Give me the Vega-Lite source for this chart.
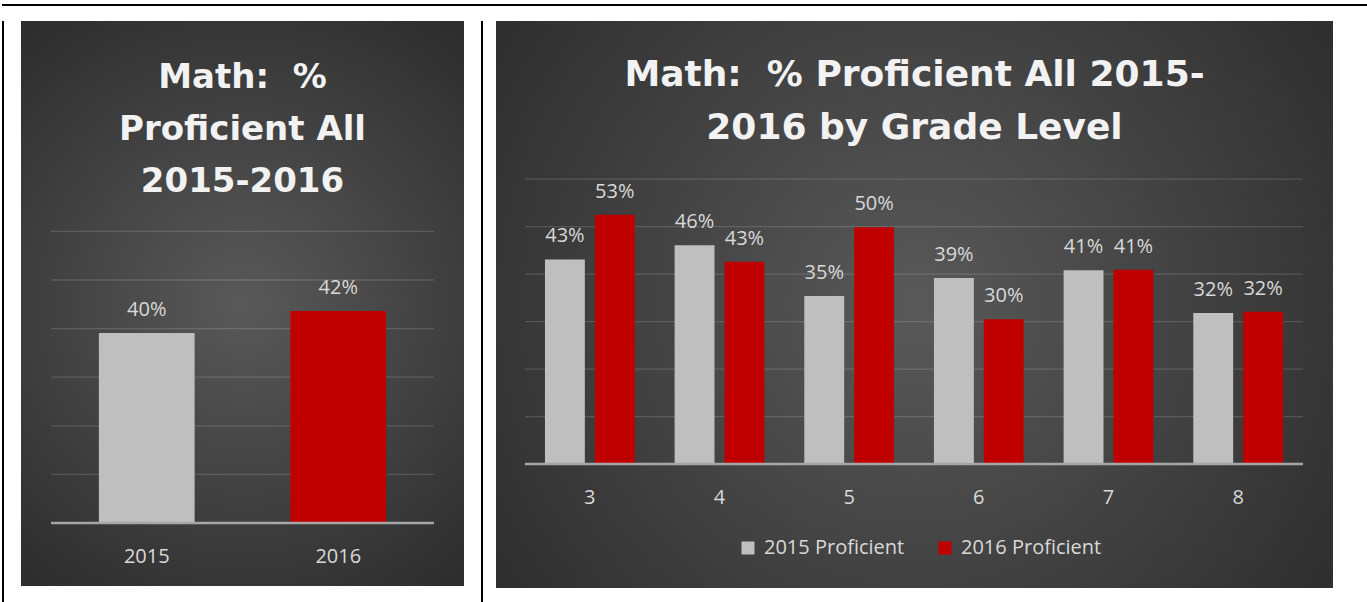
{
  "$schema": "https://vega.github.io/schema/vega-lite/v6.json",
  "background": "white",
  "padding": {"left": 2, "top": 4, "right": 0, "bottom": 0},
  "config": {
    "view": {"stroke": null},
    "axis": {"labelFont": "Open Sans", "labelFontSize": 20, "labelColor": "#d9d9d9", "zindex": 2},
    "text": {"font": "Open Sans"}
  },
  "spacing": 15,
  "resolve": {"scale": {"color": "independent"}, "legend": {"color": "independent"}},
  "vconcat": [
    {
      "width": 1365, "height": 2,
      "data": {"values": [{}]},
      "mark": {"type": "rect", "fill": "black"},
      "encoding": {}
    },
    {
      "spacing": 17,
      "resolve": {"scale": {"color": "independent"}, "legend": {"color": "independent"}},
      "hconcat": [
        {
          "spacing": 17,
          "resolve": {"scale": {"color": "independent"}, "legend": {"color": "independent"}},
          "hconcat": [
            {
              "width": 2, "height": 600,
              "data": {"values": [{}]},
              "mark": {"type": "rect", "fill": "black"},
              "encoding": {}
            },
            {
              "width": 443, "height": 565,
              "title": {
                "text": ["Math:\u00a0\u00a0%", "Proficient All", "2015-2016"],
                "anchor": "middle", "frame": "group", "offset": -212, "baseline": "bottom",
                "font": "DejaVu Sans", "fontSize": 34, "fontWeight": "bold", "color": "#f2f2f2", "lineHeight": 52
              },
              "resolve": {"scale": {"x": "independent"}},
              "layer": [
                {
                  "data": {"values": [{}]},
                  "mark": {"type": "rect", "fill": {"gradient": "radial", "x1": 0.5, "y1": 0.5, "r1": 0, "x2": 0.5, "y2": 0.5, "r2": 0.72, "stops": [{"offset": 0, "color": "#595959"}, {"offset": 1, "color": "#262626"}]}},
                  "encoding": {}
                },
                {
                  "data": {"values": [{"v": 0.1}, {"v": 0.2}, {"v": 0.3}, {"v": 0.4}, {"v": 0.5}, {"v": 0.6}]},
                  "mark": {"type": "rule", "stroke": "#ffffff", "strokeOpacity": 0.14, "strokeWidth": 1.3},
                  "encoding": {
                    "x": {"datum": 0, "type": "quantitative", "scale": {"domain": [0, 1], "range": [30, 413]}, "axis": null},
                    "x2": {"datum": 1},
                    "y": {"field": "v", "type": "quantitative", "scale": {"domain": [0, 0.6], "range": [502, 210.4], "nice": false, "zero": false}, "axis": null}
                  }
                },
                {
                  "data": {"values": [
                    {"year": "2015", "value": 0.391, "label": "40%"},
                    {"year": "2016", "value": 0.436, "label": "42%"}
                  ]},
                  "encoding": {
                    "x": {"field": "year", "type": "nominal", "scale": {"domain": ["2015", "2016"], "range": [30, 413], "paddingInner": 0.5, "paddingOuter": 0.25},
                          "axis": {"title": null, "domain": false, "ticks": false, "tickSize": 0, "offset": -63, "labelPadding": 23, "labelAngle": 0, "zindex": 2}},
                    "y": {"field": "value", "type": "quantitative", "scale": {"domain": [0, 0.6], "range": [502, 210.4], "nice": false, "zero": false}, "axis": null}
                  },
                  "layer": [
                    {
                      "mark": {"type": "bar"},
                      "encoding": {
                        "color": {"field": "year", "type": "nominal", "scale": {"domain": ["2015", "2016"], "range": ["#bfbfbf", "#c00000"]}, "legend": null}
                      }
                    },
                    {
                      "mark": {"type": "text", "baseline": "alphabetic", "dy": -17, "fontSize": 20, "color": "#d9d9d9"},
                      "encoding": {"text": {"field": "label"}}
                    }
                  ]
                },
                {
                  "data": {"values": [{"v": 0}]},
                  "mark": {"type": "rule", "stroke": "#a6a6a6", "strokeWidth": 2.5},
                  "encoding": {
                    "x": {"datum": 0, "type": "quantitative", "scale": {"domain": [0, 1], "range": [30, 413]}, "axis": null},
                    "x2": {"datum": 1},
                    "y": {"field": "v", "type": "quantitative", "scale": {"domain": [0, 0.6], "range": [502, 210.4], "nice": false, "zero": false}, "axis": null}
                  }
                }
              ]
            }
          ]
        },
        {
          "spacing": 13,
          "resolve": {"scale": {"color": "independent"}, "legend": {"color": "independent"}},
          "hconcat": [
            {
              "width": 2, "height": 600,
              "data": {"values": [{}]},
              "mark": {"type": "rect", "fill": "black"},
              "encoding": {}
            },
            {
              "width": 837, "height": 567,
              "title": {
                "text": ["Math:\u00a0\u00a0% Proficient All 2015-", "2016 by Grade Level"],
                "anchor": "middle", "frame": "group", "offset": -162, "baseline": "bottom",
                "font": "DejaVu Sans", "fontSize": 36, "fontWeight": "bold", "color": "#f2f2f2", "lineHeight": 53
              },
              "resolve": {"scale": {"x": "independent"}},
              "layer": [
                {
                  "data": {"values": [{}]},
                  "mark": {"type": "rect", "fill": {"gradient": "radial", "x1": 0.5, "y1": 0.5, "r1": 0, "x2": 0.5, "y2": 0.5, "r2": 0.72, "stops": [{"offset": 0, "color": "#595959"}, {"offset": 1, "color": "#262626"}]}},
                  "encoding": {}
                },
                {
                  "data": {"values": [{"v": 0.1}, {"v": 0.2}, {"v": 0.3}, {"v": 0.4}, {"v": 0.5}, {"v": 0.6}]},
                  "mark": {"type": "rule", "stroke": "#ffffff", "strokeOpacity": 0.14, "strokeWidth": 1.3},
                  "encoding": {
                    "x": {"datum": 0, "type": "quantitative", "scale": {"domain": [0, 1], "range": [29, 807]}, "axis": null},
                    "x2": {"datum": 1},
                    "y": {"field": "v", "type": "quantitative", "scale": {"domain": [0, 0.6], "range": [443, 158.2], "nice": false, "zero": false}, "axis": null}
                  }
                },
                {
                  "data": {"values": [
                    {"grade": "3", "series": "2015 Proficient", "value": 0.431, "label": "43%"},
                    {"grade": "3", "series": "2016 Proficient", "value": 0.525, "label": "53%"},
                    {"grade": "4", "series": "2015 Proficient", "value": 0.461, "label": "46%"},
                    {"grade": "4", "series": "2016 Proficient", "value": 0.426, "label": "43%"},
                    {"grade": "5", "series": "2015 Proficient", "value": 0.354, "label": "35%"},
                    {"grade": "5", "series": "2016 Proficient", "value": 0.499, "label": "50%"},
                    {"grade": "6", "series": "2015 Proficient", "value": 0.392, "label": "39%"},
                    {"grade": "6", "series": "2016 Proficient", "value": 0.305, "label": "30%"},
                    {"grade": "7", "series": "2015 Proficient", "value": 0.408, "label": "41%"},
                    {"grade": "7", "series": "2016 Proficient", "value": 0.409, "label": "41%"},
                    {"grade": "8", "series": "2015 Proficient", "value": 0.318, "label": "32%"},
                    {"grade": "8", "series": "2016 Proficient", "value": 0.321, "label": "32%"}
                  ]},
                  "encoding": {
                    "x": {"field": "grade", "type": "nominal", "scale": {"domain": ["3", "4", "5", "6", "7", "8"], "range": [29, 807], "paddingInner": 0, "paddingOuter": 0},
                          "axis": {"title": null, "domain": false, "ticks": false, "tickSize": 0, "offset": -124, "labelPadding": 23, "labelAngle": 0, "zindex": 2}},
                    "xOffset": {"field": "series", "type": "nominal", "scale": {"domain": ["2015 Proficient", "2016 Proficient"], "paddingInner": 0.2, "paddingOuter": 0.4}},
                    "y": {"field": "value", "type": "quantitative", "scale": {"domain": [0, 0.6], "range": [443, 158.2], "nice": false, "zero": false}, "axis": null}
                  },
                  "layer": [
                    {
                      "mark": {"type": "bar"},
                      "encoding": {
                        "color": {"field": "series", "type": "nominal", "scale": {"domain": ["2015 Proficient", "2016 Proficient"], "range": ["#bfbfbf", "#c00000"]},
                                  "legend": {"title": null, "orient": "none", "legendX": 242, "legendY": 517, "direction": "horizontal", "zindex": 3,
                                             "symbolType": "square", "symbolSize": 169, "symbolStrokeWidth": 0, "symbolOpacity": 1,
                                             "labelFont": "Open Sans", "labelFontSize": 20, "labelColor": "#d9d9d9", "columnPadding": 30, "labelOffset": 6}}
                      }
                    },
                    {
                      "mark": {"type": "text", "baseline": "alphabetic", "dy": -17, "fontSize": 20, "color": "#d9d9d9"},
                      "encoding": {"text": {"field": "label"}}
                    }
                  ]
                },
                {
                  "data": {"values": [{"v": 0}]},
                  "mark": {"type": "rule", "stroke": "#a6a6a6", "strokeWidth": 2.5},
                  "encoding": {
                    "x": {"datum": 0, "type": "quantitative", "scale": {"domain": [0, 1], "range": [29, 807]}, "axis": null},
                    "x2": {"datum": 1},
                    "y": {"field": "v", "type": "quantitative", "scale": {"domain": [0, 0.6], "range": [443, 158.2], "nice": false, "zero": false}, "axis": null}
                  }
                }
              ]
            }
          ]
        }
      ]
    }
  ]
}
